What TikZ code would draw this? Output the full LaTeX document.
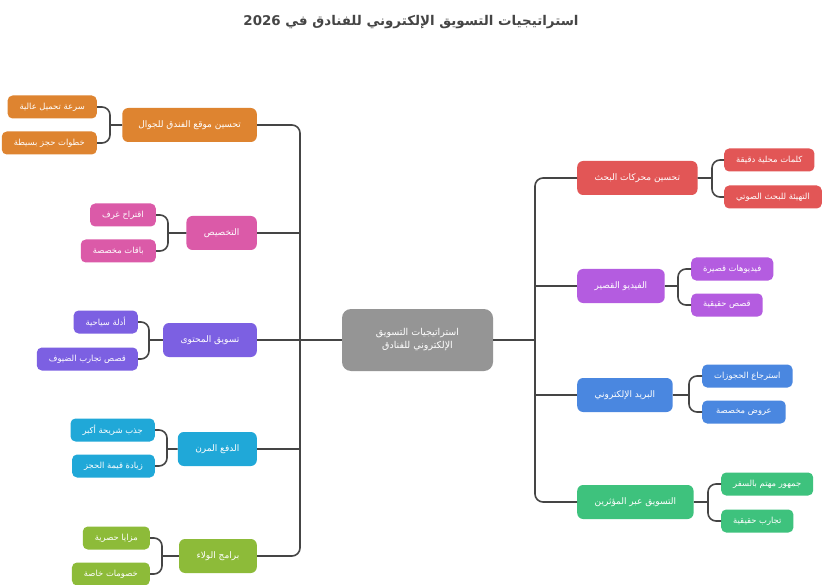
\documentclass[tikz,border=0pt]{standalone}
\usepackage{xcolor}
\usepackage{fontspec}
\usepackage{tikz}
\usetikzlibrary{positioning}
\newfontfamily\arabicfont[Script=Arabic]{DejaVu Sans}
\TeXXeTstate=1
\newcommand{\artxt}[1]{\beginR #1\endR}
\definecolor{orng}{HTML}{DE8430}
\definecolor{pnk}{HTML}{DB5AA8}
\definecolor{prpl}{HTML}{7C60E2}
\definecolor{cyn}{HTML}{20A8D8}
\definecolor{olv}{HTML}{8DBB39}
\definecolor{rd}{HTML}{E25656}
\definecolor{mgnt}{HTML}{B45CE0}
\definecolor{blu}{HTML}{4A87E0}
\definecolor{grn}{HTML}{3EC27D}
\definecolor{gry}{HTML}{959595}
\definecolor{ln}{HTML}{454545}
\tikzset{main node/.style={rounded corners=6pt,fill=#1,text=white,minimum height=34pt,inner xsep=17.5pt,font=\arabicfont\fontsize{9}{11}\selectfont},}
\tikzset{leaf node/.style={rounded corners=5pt,fill=#1,text=white,minimum height=23pt,inner xsep=12pt,font=\arabicfont\fontsize{8.4}{10}\selectfont},}
\tikzset{conn/.style={draw=ln,line width=1.6pt,rounded corners=8pt},}

\begin{document}
\begin{tikzpicture}[x=1pt,y=-1pt]
       \useasboundingbox[fill=white] (0,0) rectangle (824,585);
       \node[font=\arabicfont\bfseries\fontsize{13.4}{16}\selectfont,text=ln] (title) at (411,22)
            {\artxt{استراتيجيات التسويق الإلكتروني للفنادق في \beginL2026\endL}};

       % centre
       \node[main node=gry,minimum width=151pt,minimum height=62pt,align=center,rounded corners=9pt,
             font=\arabicfont\fontsize{9.5}{13}\selectfont] (root) at (417.5,340)
            {\artxt{استراتيجيات التسويق}\\\artxt{الإلكتروني للفنادق}};
       \coordinate (ltrunk) at (300,340);
       \coordinate (rtrunk) at (535,340);

       % left side
       \node[main node=orng,anchor=east,inner xsep=16pt] (mobile) at (257,125) {\artxt{تحسين موقع الفندق للجوال}};
       \node[main node=pnk,anchor=east] (perso) at (257,233) {\artxt{التخصيص}};
       \node[main node=prpl,anchor=east] (content) at (257,340) {\artxt{تسويق المحتوى}};
       \node[main node=cyn,anchor=east] (pay) at (257,449) {\artxt{الدفع المرن}};
       \node[main node=olv,anchor=east] (loyal) at (257,556) {\artxt{برامج الولاء}};

       \node[leaf node=orng,anchor=east] (speed) at (97,107) {\artxt{سرعة تحميل عالية}};
       \node[leaf node=orng,anchor=east] (steps) at (97,143) {\artxt{خطوات حجز بسيطة}};
       \node[leaf node=pnk,anchor=east] (rooms) at (156,215) {\artxt{اقتراح غرف}};
       \node[leaf node=pnk,anchor=east] (packs) at (156,251) {\artxt{باقات مخصصة}};
       \node[leaf node=prpl,anchor=east] (guides) at (138,322) {\artxt{أدلة سياحية}};
       \node[leaf node=prpl,anchor=east] (stories) at (138,359) {\artxt{قصص تجارب الضيوف}};
       \node[leaf node=cyn,anchor=east] (reach) at (155,430) {\artxt{جذب شريحة أكبر}};
       \node[leaf node=cyn,anchor=east] (value) at (155,466) {\artxt{زيادة قيمة الحجز}};
       \node[leaf node=olv,anchor=east] (perks) at (150,538) {\artxt{مزايا حصرية}};
       \node[leaf node=olv,anchor=east] (discount) at (150,574) {\artxt{خصومات خاصة}};

       % right side
       \node[main node=rd,anchor=west] (seo) at (577,178) {\artxt{تحسين محركات البحث}};
       \node[main node=mgnt,anchor=west] (video) at (577,286) {\artxt{الفيديو القصير}};
       \node[main node=blu,anchor=west] (mail) at (577,395) {\artxt{البريد الإلكتروني}};
       \node[main node=grn,anchor=west] (influ) at (577,502) {\artxt{التسويق عبر المؤثرين}};

       \node[leaf node=rd,anchor=west] (words) at (724,160) {\artxt{كلمات محلية دقيقة}};
       \node[leaf node=rd,anchor=west] (voice) at (724,197) {\artxt{التهيئة للبحث الصوتي}};
       \node[leaf node=mgnt,anchor=west] (clips) at (691,269) {\artxt{فيديوهات قصيرة}};
       \node[leaf node=mgnt,anchor=west] (real) at (691,305) {\artxt{قصص حقيقية}};
       \node[leaf node=blu,anchor=west] (recover) at (702,376) {\artxt{استرجاع الحجوزات}};
       \node[leaf node=blu,anchor=west,inner xsep=14pt] (offers) at (702,412) {\artxt{عروض مخصصة}};
       \node[leaf node=grn,anchor=west] (travel) at (721,484) {\artxt{جمهور مهتم بالسفر}};
       \node[leaf node=grn,anchor=west] (exper) at (721,521) {\artxt{تجارب حقيقية}};

       % trunks
       \draw[conn] (root.west) -- (ltrunk);
       \draw[conn] (mobile.east) -| (ltrunk) |- (loyal.east);
       \draw[conn] (perso.east) -- (ltrunk |- perso.east)
                   (content.east) -- (ltrunk |- content.east)
                   (pay.east) -- (ltrunk |- pay.east);
       \draw[conn] (root.east) -- (rtrunk);
       \draw[conn] (seo.west) -| (rtrunk) |- (influ.west);
       \draw[conn] (video.west) -- (rtrunk |- video.west)
                   (mail.west) -- (rtrunk |- mail.west);

       % brackets
       \coordinate (b1) at (110,125);
       \coordinate (b2) at (168,233);
       \coordinate (b3) at (149,340);
       \coordinate (b4) at (167,449);
       \coordinate (b5) at (162,556);
       \draw[conn] (mobile.west) -- (b1) (speed.east) -| (b1) |- (steps.east);
       \draw[conn] (perso.west) -- (b2) (rooms.east) -| (b2) |- (packs.east);
       \draw[conn] (content.west) -- (b3) (guides.east) -| (b3) |- (stories.east);
       \draw[conn] (pay.west) -- (b4) (reach.east) -| (b4) |- (value.east);
       \draw[conn] (loyal.west) -- (b5) (perks.east) -| (b5) |- (discount.east);

       \coordinate (b6) at (712,178);
       \coordinate (b7) at (678,286);
       \coordinate (b8) at (689,395);
       \coordinate (b9) at (708,502);
       \draw[conn] (seo.east) -- (b6) (words.west) -| (b6) |- (voice.west);
       \draw[conn] (video.east) -- (b7) (clips.west) -| (b7) |- (real.west);
       \draw[conn] (mail.east) -- (b8) (recover.west) -| (b8) |- (offers.west);
       \draw[conn] (influ.east) -- (b9) (travel.west) -| (b9) |- (exper.west);
\end{tikzpicture}
\end{document}
